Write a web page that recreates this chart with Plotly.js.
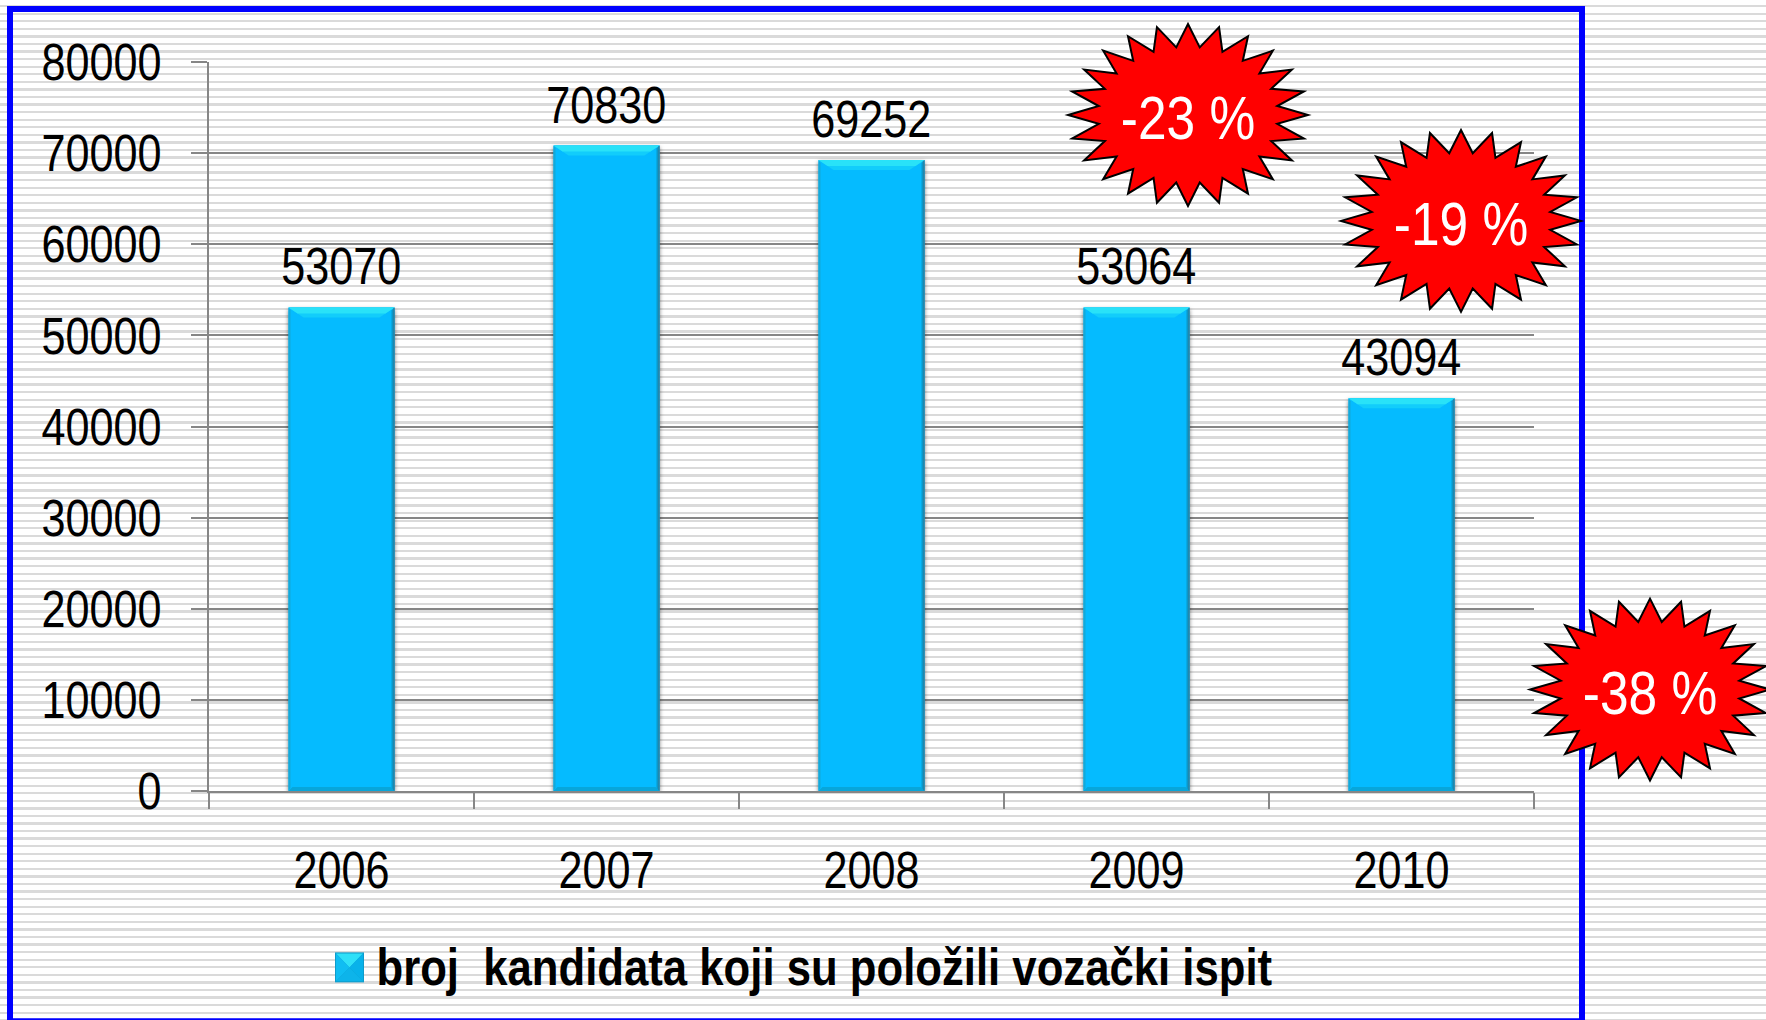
<!DOCTYPE html>
<html><head><meta charset="utf-8">
<script src="https://cdn.plot.ly/plotly-3.0.1.min.js"></script>
<style>
html,body{margin:0;padding:0;width:1766px;height:1020px;overflow:hidden;
background:repeating-linear-gradient(to bottom,#fff 0,#fff 5px,#dadada 5px,#dadada 7.3px,#fff 7.3px,#fff 7.568px);}
#chart{width:1766px;height:1020px;}
</style></head><body><div id="chart"></div>
<script>
const categories=['2006','2007','2008','2009','2010'];
const candidates=[53070,70830,69252,53064,43094];
const seriesName='broj  kandidata koji su položili vozački ispit';
const yTicks=[0,10000,20000,30000,40000,50000,60000,70000,80000];
const badgeLabels=['-23 %','-19 %','-38 %'];
const badgeCx=[1188,1461,1650];
const badgeCy=[115,221,690];

const W=1766,H=1020,L=209,R=1534,T=62,B=791.5;
const px=x=>(x-L)/(R-L), py=y=>(B-y)/(B-T);
const yPerPx=80000/(B-T), xPerPx=5/(R-L);
const halfBar=0.2;
const FONT='"Liberation Sans",Arial,sans-serif';

function star(cx,cy){
  const n=24,rx=120,ry=91,inner=0.75;let d='';
  for(let i=0;i<2*n;i++){
    const a=Math.PI*i/n-Math.PI/2,r=i%2?inner:1;
    d+=(i?'L':'M')+px(cx+rx*r*Math.cos(a)).toFixed(5)+','+py(cy+ry*r*Math.sin(a)).toFixed(5)+' ';
  }
  return d+'Z';
}
const shapes=[
 {type:'rect',xref:'paper',yref:'paper',x0:px(10),x1:px(1582),y0:py(1022),y1:py(9),line:{color:'#0000ff',width:6},fillcolor:'rgba(0,0,0,0)',layer:'below'}
];
function bevel(path,color){shapes.push({type:'path',xref:'x',yref:'y',line:{width:0},fillcolor:color,path});}
candidates.forEach((v,i)=>{
  const a=i-halfBar,b=i+halfBar,dx=t=>t*xPerPx,dy=t=>t*yPerPx;
  // soft bevel faces, measured from each bar's own value
  bevel(`M${a},${v} L${b},${v} L${b-dx(15)},${v-dy(10)} L${a+dx(15)},${v-dy(10)} Z`,'#12cdfb');
  bevel(`M${a},${v} L${b},${v} L${b-dx(9)},${v-dy(6)} L${a+dx(9)},${v-dy(6)} Z`,'#29e2f8');
  bevel(`M${a},0 L${b},0 L${b-dx(4)},${dy(4)} L${a+dx(4)},${dy(4)} Z`,'#08a6da');
  bevel(`M${b},0 L${b},${v} L${b-dx(3)},${v-dy(3)} L${b-dx(3)},${dy(3)} Z`,'#0c97c8');
  bevel(`M${b},0 L${b},${v} L${b-dx(1.2)},${v-dy(1.2)} L${b-dx(1.2)},${dy(1.2)} Z`,'#2f7f9f');
  bevel(`M${a},0 L${a},${v} L${a+dx(2)},${v-dy(3)} L${a+dx(2)},${dy(3)} Z`,'#13a9da');
});
// legend swatch faces
const sw={x0:335,x1:364,y0:953,y1:983,cx:349.5,cy:968};
function face(pts,color){
  shapes.push({type:'path',xref:'paper',yref:'paper',line:{width:0},fillcolor:color,
    path:pts.map((p,i)=>(i?'L':'M')+px(p[0]).toFixed(5)+','+py(p[1]).toFixed(5)).join(' ')+' Z'});
}
face([[sw.x0,sw.y0],[sw.x1,sw.y0],[sw.x1,sw.y1],[sw.x0,sw.y1]],'#0e9ccb');
face([[sw.x0+1,sw.y0+1],[sw.x1-1,sw.y0+1],[sw.cx,sw.cy]],'#2fe0f8');
face([[sw.x0+1,sw.y0+1],[sw.x0+1,sw.y1-1],[sw.cx,sw.cy]],'#10bdf2');
face([[sw.x1-1,sw.y0+1],[sw.x1-1,sw.y1-1],[sw.cx,sw.cy]],'#08b2ea');
face([[sw.x0+1,sw.y1-1],[sw.x1-1,sw.y1-1],[sw.cx,sw.cy]],'#0db4ea');

badgeCx.forEach((c,i)=>shapes.push({type:'path',xref:'paper',yref:'paper',path:star(c,badgeCy[i]),
  fillcolor:'#ff0000',line:{color:'#000',width:2}}));

const annotations=badgeLabels.map((t,i)=>({xref:'paper',yref:'paper',x:px(badgeCx[i]),y:py(badgeCy[i]+3),
  text:t,showarrow:false,xanchor:'center',yanchor:'middle',
  font:{family:FONT,size:62,color:'#fff'}}));
candidates.forEach((v,i)=>annotations.push({xref:'x',yref:'y',x:i,y:v,text:String(v),
  showarrow:false,xanchor:'center',yanchor:'bottom',yshift:10,font:{family:FONT,size:52,color:'#000'}}));

Plotly.newPlot('chart',[{
  type:'bar',x:categories,y:candidates,name:seriesName,showlegend:true,
  marker:{color:'#05bbff',line:{width:0}}
}],{
  width:W,height:H,
  paper_bgcolor:'rgba(0,0,0,0)',plot_bgcolor:'rgba(0,0,0,0)',
  margin:{l:L,r:W-R,t:T,b:H-B,pad:0},
  bargap:0.6,
  font:{family:FONT,size:52,color:'#000'},
  xaxis:{type:'category',range:[-0.5,4.5],showgrid:false,zeroline:false,showline:true,linecolor:'#868686',linewidth:2,
    ticks:'outside',tickson:'boundaries',ticklen:16,tickwidth:2,tickcolor:'#868686',ticklabelstandoff:33,tickfont:{size:52}},
  yaxis:{range:[0,80000],tickvals:yTicks,ticktext:yTicks.map(String),showgrid:true,gridcolor:'#868686',gridwidth:2,
    zeroline:false,showline:true,linecolor:'#868686',linewidth:2,ticks:'outside',ticklen:16,tickwidth:2,tickcolor:'#868686',
    ticklabelstandoff:19,tickfont:{size:52}},
  legend:{orientation:'h',x:px(336.5),y:py(966),xanchor:'left',yanchor:'middle',bgcolor:'rgba(0,0,0,0)',
    font:{family:FONT,size:52,color:'#000',weight:700},itemwidth:30},
  shapes,annotations
},{displayModeBar:false,staticPlot:true}).then(()=>{
  document.querySelectorAll('.barlayer .bars .point path').forEach(p=>p.style.filter='drop-shadow(0 2px 2px rgba(0,0,0,.55))');
  document.querySelectorAll('.legendpoints path').forEach(p=>p.style.opacity=0);
  // Condense all glyphs to the narrow look of the original face
  document.querySelectorAll('#chart svg text').forEach(t=>{
    const w=t.getComputedTextLength();
    const k=t.classList.contains('legendtext')?0.84:0.83;
    if(w>0){t.setAttribute('textLength',(w*k).toFixed(1));t.setAttribute('lengthAdjust','spacingAndGlyphs');}
  });
});
</script></body></html>
